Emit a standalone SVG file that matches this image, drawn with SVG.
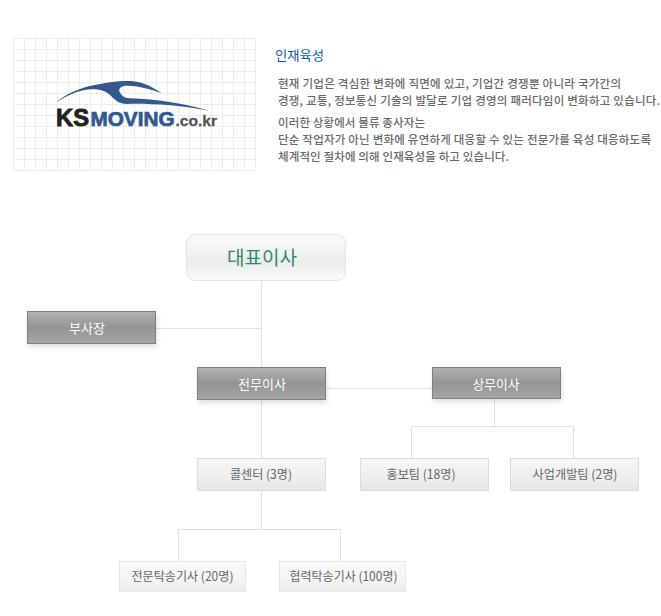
<svg xmlns="http://www.w3.org/2000/svg" width="661" height="616" viewBox="0 0 661 616">
<style>
text{font-family:"Noto Sans CJK KR","Noto Sans",sans-serif}
.grid{stroke:#ececec;stroke-width:1;fill:none}
.conn{stroke:#e0e0e0;stroke-width:1;fill:none}
.body{font-size:11.5px;font-weight:500;fill:#6a6a6a}
.dark{fill:url(#gDark);stroke:#808080;stroke-width:1;filter:url(#sh)}
.light{fill:url(#gLight);stroke:#dcdcdc;stroke-width:1}
.pale{fill:url(#gPale);stroke:#e6e6e6;stroke-width:1}
.dl{font-size:13px;font-weight:400;fill:#ffffff}
.ll{font-size:12.5px;font-weight:400;fill:#666666}
.lg{font-family:"Liberation Sans",sans-serif;font-weight:700}
</style>
<defs>
<linearGradient id="gDark" x1="0" y1="0" x2="0" y2="1"><stop offset="0" stop-color="#b2b2b2"/><stop offset="0.5" stop-color="#949494"/><stop offset="1" stop-color="#a6a6a6"/></linearGradient>
<linearGradient id="gLight" x1="0" y1="0" x2="0" y2="1"><stop offset="0" stop-color="#f7f7f7"/><stop offset="0.6" stop-color="#eeeeee"/><stop offset="1" stop-color="#e6e6e6"/></linearGradient>
<linearGradient id="gPale" x1="0" y1="0" x2="0" y2="1"><stop offset="0" stop-color="#fbfbfb"/><stop offset="0.6" stop-color="#f3f3f3"/><stop offset="1" stop-color="#ececec"/></linearGradient>
<linearGradient id="gTop" x1="0" y1="0" x2="0" y2="1"><stop offset="0" stop-color="#fbfbfb"/><stop offset="0.6" stop-color="#ececec"/><stop offset="1" stop-color="#fbfbfb"/></linearGradient>
<filter id="sh" x="-10%" y="-20%" width="120%" height="150%"><feDropShadow dx="1" dy="3" stdDeviation="2.5" flood-color="#000000" flood-opacity="0.12"/></filter>
</defs>
<rect width="661" height="616" fill="#ffffff"/>

<g id="logo">
<path class="grid" d="M13.5 38.5H255.5M13.5 49.5H255.5M13.5 60.5H255.5M13.5 71.5H255.5M13.5 82.5H255.5M13.5 93.5H255.5M13.5 104.5H255.5M13.5 115.5H255.5M13.5 126.5H255.5M13.5 137.5H255.5M13.5 148.5H255.5M13.5 159.5H255.5M13.5 170.5H255.5M13.5 38.5V170.5M24.5 38.5V170.5M35.5 38.5V170.5M46.5 38.5V170.5M57.5 38.5V170.5M68.5 38.5V170.5M79.5 38.5V170.5M90.5 38.5V170.5M101.5 38.5V170.5M112.5 38.5V170.5M123.5 38.5V170.5M134.5 38.5V170.5M145.5 38.5V170.5M156.5 38.5V170.5M167.5 38.5V170.5M178.5 38.5V170.5M189.5 38.5V170.5M200.5 38.5V170.5M211.5 38.5V170.5M222.5 38.5V170.5M233.5 38.5V170.5M244.5 38.5V170.5M255.5 38.5V170.5"/>
<path fill="#34588f" d="M56 102.7C68 92 86 84 123 81C136 80.5 146 82 161.7 93.3C148 88 132 84.5 123.5 86C119 87.5 118.5 90.5 120 92.5C122 96 124 98 130 98.3C156.7 99 186.7 104 209 110.7C180 105 146.7 103.3 127 104C119 104 115 100 110 95C104 89.5 96 88.5 88 89.5C76 91 66 96 56 102.7Z"/>
<text class="lg" x="56" y="125.7" font-size="24.5" fill="#222222" stroke="#222222" stroke-width="0.9" textLength="33" lengthAdjust="spacingAndGlyphs">KS</text>
<text class="lg" x="90.5" y="125.7" font-size="19.5" fill="#34588f" stroke="#34588f" stroke-width="0.7" textLength="84" lengthAdjust="spacingAndGlyphs">MOVING</text>
<text class="lg" x="175.5" y="125.7" font-size="14.5" fill="#555555" stroke="#555555" stroke-width="0.3" textLength="41.5" lengthAdjust="spacingAndGlyphs">.co.kr</text>
</g>

<g id="intro">
<text x="275" y="60" font-size="13" font-weight="400" fill="#0b5cb0" textLength="49" lengthAdjust="spacingAndGlyphs">인재육성</text>
<text class="body" x="278" y="88" textLength="343">현재 기업은 격심한 변화에 직면에 있고, 기업간 경쟁뿐 아니라 국가간의</text>
<text class="body" x="278" y="105" textLength="382">경쟁, 교통, 정보통신 기술의 발달로 기업 경영의 패러다임이 변화하고 있습니다.</text>
<text class="body" x="278" y="127" textLength="147">이러한 상황에서 물류 종사자는</text>
<text class="body" x="278" y="144" textLength="373">단순 작업자가 아닌 변화에 유연하게 대응할 수 있는 전문가를 육성 대응하도록</text>
<text class="body" x="278" y="161" textLength="231">체계적인 절차에 의해 인재육성을 하고 있습니다.</text>
</g>

<g id="connectors">
<path class="conn" d="M261.5 281V458M156 328.5H261.5M326 388.5H432M261.5 491V529.5M178.5 561V529.5H340.5V561M494.5 399V426.5M411.5 458V426.5H573.5V458"/>
</g>

<g id="n-ceo">
<rect x="186.5" y="234.5" width="159" height="46" rx="9" fill="url(#gTop)" stroke="#e3e3e3"/>
<text x="227" y="265" font-size="19.5" fill="#2f8a6e" textLength="70" lengthAdjust="spacingAndGlyphs">대표이사</text>
</g>
<g id="n-vp">
<rect class="dark" x="27.5" y="311.5" width="128" height="32"/>
<text class="dl" x="69" y="332.5" textLength="36" lengthAdjust="spacingAndGlyphs">부사장</text>
</g>
<g id="n-director">
<rect class="dark" x="197.5" y="367.5" width="128" height="32"/>
<text class="dl" x="238" y="388.5" textLength="48" lengthAdjust="spacingAndGlyphs">전무이사</text>
</g>
<g id="n-managing">
<rect class="dark" x="432.5" y="367.5" width="128" height="31"/>
<text class="dl" x="472.5" y="388.5" textLength="47" lengthAdjust="spacingAndGlyphs">상무이사</text>
</g>
<g id="n-call">
<rect class="light" x="197.5" y="458.5" width="128" height="32"/>
<text class="ll" x="230" y="479" textLength="62" lengthAdjust="spacingAndGlyphs">콜센터 (3명)</text>
</g>
<g id="n-pr">
<rect class="light" x="360.5" y="458.5" width="128" height="32"/>
<text class="ll" x="386.5" y="479" textLength="69" lengthAdjust="spacingAndGlyphs">홍보팀 (18명)</text>
</g>
<g id="n-biz">
<rect class="light" x="510.5" y="458.5" width="128" height="32"/>
<text class="ll" x="532.5" y="479" textLength="85" lengthAdjust="spacingAndGlyphs">사업개발팀 (2명)</text>
</g>
<g id="n-pro">
<rect class="pale" x="119.5" y="561.5" width="126" height="30"/>
<text class="ll" x="131.5" y="581" textLength="102" lengthAdjust="spacingAndGlyphs">전문탁송기사 (20명)</text>
</g>
<g id="n-partner">
<rect class="pale" x="279.5" y="561.5" width="126" height="30"/>
<text class="ll" x="289.5" y="581" textLength="108" lengthAdjust="spacingAndGlyphs">협력탁송기사 (100명)</text>
</g>
</svg>
